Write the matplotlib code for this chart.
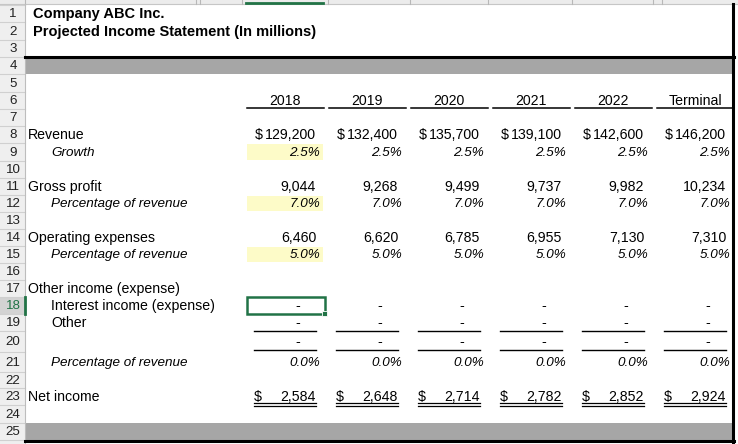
import matplotlib
matplotlib.use("Agg")
import matplotlib.pyplot as plt
from matplotlib.patches import Rectangle

plt.rcParams['font.family'] = ['Liberation Sans', 'DejaVu Sans']

# ---- data ----
title1 = "Company ABC Inc."
title2 = "Projected Income Statement (In millions)"
years = ["2018", "2019", "2020", "2021", "2022", "Terminal"]
revenue = [129200, 132400, 135700, 139100, 142600, 146200]
growth = [2.5, 2.5, 2.5, 2.5, 2.5, 2.5]
gross_profit = [9044, 9268, 9499, 9737, 9982, 10234]
gross_pct = [7.0, 7.0, 7.0, 7.0, 7.0, 7.0]
opex = [6460, 6620, 6785, 6955, 7130, 7310]
opex_pct = [5.0, 5.0, 5.0, 5.0, 5.0, 5.0]
interest = [0, 0, 0, 0, 0, 0]
other = [0, 0, 0, 0, 0, 0]
other_total = [0, 0, 0, 0, 0, 0]
other_pct = [0.0, 0.0, 0.0, 0.0, 0.0, 0.0]
net_income = [2584, 2648, 2714, 2782, 2852, 2924]

labels = {
    8: ("Revenue", 0, False), 9: ("Growth", 1, True),
    11: ("Gross profit", 0, False), 12: ("Percentage of revenue", 1, True),
    14: ("Operating expenses", 0, False), 15: ("Percentage of revenue", 1, True),
    17: ("Other income (expense)", 0, False), 18: ("Interest income (expense)", 1, False),
    19: ("Other", 1, False), 21: ("Percentage of revenue", 1, True),
    23: ("Net income", 0, False),
}

# ---- layout ----
W, H = 738, 444
bounds = [5, 22, 40, 57, 74, 92, 109, 126, 143, 161, 178, 195, 212, 229,
          246, 263, 280, 297, 314, 331, 352, 372, 388, 405, 423, 440]
hdr_w = 25
col0, colw = 246, 82
right_edge = 733
FS = 10.2      # regular
FSB = 10.5     # bold titles
FSI = 9.7      # italic
DY = 0.8       # text baseline nudge

def rtop(r): return bounds[r - 1]
def rbot(r): return bounds[r]
def rc(r): return (bounds[r - 1] + bounds[r]) / 2.0 + DY
def cx(i): return col0 + i * colw

fig = plt.figure(figsize=(W / 100, H / 100), dpi=100)
ax = fig.add_axes([0, 0, 1, 1])
ax.set_xlim(0, W)
ax.set_ylim(H, 0)
ax.axis('off')

# top column-header strip
ax.add_patch(Rectangle((0, 0), W, 4, facecolor='#ececec', edgecolor='none'))
ax.plot([0, W], [4, 4], color='#c6c6c6', lw=0.8)
for x in [hdr_w, 196, 200, 242, 328, 410, 488, 572, 653, 662]:
    ax.plot([x, x], [0, 4], color='#b8b8b8', lw=0.8)
ax.plot([cx(0), cx(0) + 77], [3.2, 3.2], color='#217346', lw=2)

# row header column
ax.add_patch(Rectangle((0, 4), hdr_w, H - 4, facecolor='#efefef', edgecolor='none'))
ax.add_patch(Rectangle((0, rtop(18)), hdr_w, rbot(18) - rtop(18),
                       facecolor='#d3d3d3', edgecolor='none'))
for b in bounds:
    ax.plot([0, hdr_w], [b, b], color='#d0d0d0', lw=0.8)
ax.plot([hdr_w, hdr_w], [4, H], color='#bdbdbd', lw=0.8)
ax.plot([hdr_w - 0.5, hdr_w - 0.5], [rtop(18), rbot(18)], color='#217346', lw=2)
for r in range(1, 26):
    ax.text(13, rc(r), str(r), ha='center', va='center', fontsize=FS - 0.6,
            color='#217346' if r == 18 else '#222222')

# gray bands and black borders
for r in (4, 25):
    ax.add_patch(Rectangle((hdr_w + 0.5, rtop(r)), right_edge - hdr_w - 1,
                           rbot(r) - rtop(r), facecolor='#a6a6a6', edgecolor='none'))
ax.plot([hdr_w, right_edge + 1], [rtop(4), rtop(4)], color='black', lw=2.2)
ax.plot([hdr_w, right_edge + 1], [rbot(25) + 0.5, rbot(25) + 0.5], color='black', lw=2.2)
ax.plot([right_edge, right_edge], [4, rbot(25) + 1.5], color='black', lw=2.2)

# titles
ax.text(33, rc(1), title1, ha='left', va='center', fontsize=FSB, fontweight='bold')
ax.text(33, rc(2), title2, ha='left', va='center', fontsize=FSB, fontweight='bold')

# labels
for r, (txt, ind, it) in labels.items():
    ax.text(28 + 23 * ind, rc(r), txt, ha='left', va='center',
            fontsize=FSI if it else FS, style='italic' if it else 'normal')

# yellow input cells (2018 column)
for r in (9, 12, 15):
    ax.add_patch(Rectangle((cx(0) + 1, rtop(r) + 1), 76, rbot(r) - rtop(r) - 2,
                           facecolor='#fdfbc8', edgecolor='none'))

def num(v): return f"{v:,.0f}"
def pct(v): return f"{v:.1f}%"

for i, y in enumerate(years):
    x = cx(i)
    ax.text(x + 39, rc(6), y, ha='center', va='center', fontsize=FS)
    ax.plot([x + 1, x + 78], [108, 108], color='black', lw=1.1)
    ax.text(x + 9, rc(8), "$", ha='left', va='center', fontsize=FS)
    ax.text(x + 70, rc(8), num(revenue[i]), ha='right', va='center', fontsize=FS)
    ax.text(x + 74, rc(9), pct(growth[i]), ha='right', va='center', fontsize=FSI, style='italic')
    ax.text(x + 70, rc(11), num(gross_profit[i]), ha='right', va='center', fontsize=FS)
    ax.text(x + 74, rc(12), pct(gross_pct[i]), ha='right', va='center', fontsize=FSI, style='italic')
    ax.text(x + 70, rc(14), num(opex[i]), ha='right', va='center', fontsize=FS)
    ax.text(x + 74, rc(15), pct(opex_pct[i]), ha='right', va='center', fontsize=FSI, style='italic')
    for r, vals in ((18, interest), (19, other), (20, other_total)):
        s = "-" if vals[i] == 0 else num(vals[i])
        ax.text(x + 52, rc(r), s, ha='center', va='center', fontsize=FS)
    ax.plot([x + 8, x + 70], [331, 331], color='black', lw=1.0)
    ax.plot([x + 8, x + 70], [350, 350], color='black', lw=1.0)
    ax.text(x + 74, rc(21), pct(other_pct[i]), ha='right', va='center', fontsize=FSI, style='italic')
    ax.text(x + 8, rc(23), "$", ha='left', va='center', fontsize=FS)
    ax.text(x + 70, rc(23), num(net_income[i]), ha='right', va='center', fontsize=FS)
    ax.plot([x + 8, x + 70], [403, 403], color='black', lw=0.9)
    ax.plot([x + 8, x + 70], [406, 406], color='black', lw=0.9)

# selected cell
ax.add_patch(Rectangle((cx(0) + 0.5, rtop(18) - 0.5), 78, rbot(18) - rtop(18),
                       facecolor='none', edgecolor='#217346', lw=1.8))
ax.add_patch(Rectangle((cx(0) + 76, rbot(18) - 3), 5, 5,
                       facecolor='#217346', edgecolor='white', lw=0.6))

fig.savefig("out.png", dpi=100)
